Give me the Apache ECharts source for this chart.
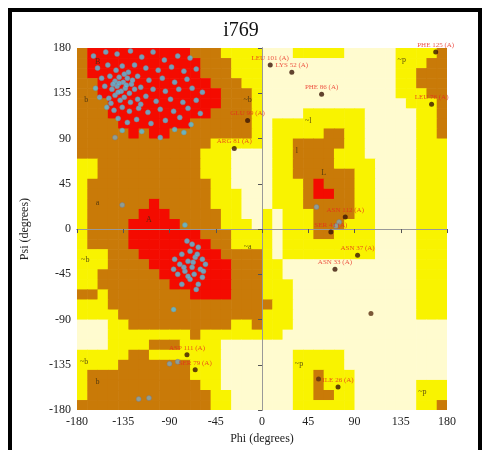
<!DOCTYPE html>
<html><head><meta charset="utf-8">
<script src="https://cdn.jsdelivr.net/npm/echarts/dist/echarts.min.js"></script>
<style>html,body{margin:0;padding:0;background:#fff}#c{width:482px;height:450px}</style>
</head><body><div id="c"></div>
<script>
// Region map: 36 rows (psi 180 -> -180, 10 deg each), 36 cols (phi -180 -> 180)
// R = core, B = allowed, Y = generously allowed, L = disallowed
const regionRows = [
"BRRRRRRRRRRBBBYYYYLLLYYYYYLLLLLYYYYB",
"BRRRRRRRRRRRBBBYYYLLLLLLLLLLLLLYYYBB",
"BRRRRRRRRRRRBBBYYYLLLLLLLLLLLLLYYBBB",
"BBRRRRRRRRRRRBBBYYLLLLLLLLLLLLLYYBBB",
"BBRRRRRRRRRRRRBBBYLLLLLLLLLLLLLYYYBB",
"BBBRRRRRRRRRRRBBBYLLLLLLLLLLLLLLYYYB",
"BBBRRRRRRRRRRBBBBYLLLLYYYYYYLLLLLYYB",
"BBBBRRRRRRRBBBBBBYLYYYYYYYYYLLLLLYYB",
"BBBBBRBRRBBBBBBBBYLYYYYYBBYYLLLLLYYB",
"BBBBBBBBBBBBBYYYYYLYYBBBBBYYLLLLLYYY",
"BBBBBBBBBBBBYYYLLLLYYBBBBYYYLLLLLYYY",
"YYBBBBBBBBBBYYYLLLLYYBBBBYYYYLLLLYYY",
"YYBBBBBBBBBBYYYLLLLYYBBBBBBYYLLLLYYY",
"YBBBBBBBBBBBBYYLLLLYYYBRBBBYYLLLLYYY",
"YBBBBBBBBBBBBYYYLLLYYYBRRBBYYLLLLYYY",
"YBBBBBBRBBBBBYYYLLLYYYBBBBBYYLLLLYYY",
"YBBBBBRRRBBBBBYYLLYLYYYBBBBYYLLLLYYY",
"YBBBBRRRRRBBBBYYYLYLYYYBBBYYYLLLLYYY",
"YBBBBRRRRRRRBBBYYYYLYYYBBYYYYLLLLYYY",
"YBBBBRRRRRRRRBBYYYYLYYYYYYYYYLLLLYYY",
"YYYBBBRRRRRRRRBBBBYLYYYYYYYYYLLLLYYY",
"YYYBBBBRRRRRRRRBBBYYLLLLLLLLLLLLLYYY",
"YYBBBBBBRRRRRRRBBBYYLLLLLLLLLLLLLYYY",
"YYBBBBBBBRRRRRRBBBYYYLLLLLLLLLLLLYYY",
"BBYBBBBBBBBRRRRBBBYYYLLLLLLLLLLLLYYY",
"YYYBBBBBBBBBBBBBBBBYYLLLLLLLLLLLLYYY",
"YYYYBBBBBBBBBBBBBBYYYLLLLLLLLLLLLYYY",
"LLLYYBBBBBBBBBBYYBYYYLLLLLLLLLLLLLLL",
"LLLYYYYYYYYBYYYYYYYYLLLLLLLLLLLLLLLL",
"LLLYYYYBBBYYYYLLLLLLLLLLLLLLLLLLLLLL",
"YYYYYBBYYYYYYYLLLLLLLYYYYYLLLLLLLLLL",
"YYYYBBBBBBBYYYLLLLLLLYYYYYLLLLLLLLLL",
"YBBBBBBBBBBYYYLLLLLLLYYBYYYLLLLLLLLL",
"YBBBBBBBBBBBYYLLLLLLLYYBYYYLLLLLLYYY",
"YBBBBBBBBBBBBYYLLLLLLYYBBYYLLLLLLYYY",
"BBBBBBBBBBBBBYYLLLLLLYYYYYYLLLLLLYYB"
];
const regionColors = {R:'#F40B00', B:'#C97A08', Y:'#F9F300', L:'#FFFBCF'};

const tickValues = [-180,-135,-90,-45,0,45,90,135,180];

// Residues (phi, psi)
const betaPts = [
[-164,172],[-152,176],[-141,174],[-128,177],[-117,171],[-106,176],[-95,168],[-82,172],[-70,170],
[-160,160],[-150,163],[-142,158],[-136,162],[-130,156],[-124,163],[-113,160],[-101,158],[-88,161],[-76,157],[-64,159],
[-156,150],[-148,152],[-143,147],[-139,151],[-135,146],[-131,150],[-127,144],[-121,152],[-110,148],[-97,150],[-85,146],[-73,149],
[-162,140],[-153,142],[-146,139],[-141,142],[-137,137],[-133,140],[-129,135],[-124,139],[-118,141],[-106,139],[-94,137],[-81,139],[-68,140],[-58,136],
[-158,131],[-149,130],[-143,133],[-138,128],[-134,131],[-128,126],[-121,129],[-113,132],[-103,127],[-89,129],[-77,126],[-64,128],
[-151,121],[-144,118],[-136,121],[-129,117],[-120,120],[-111,116],[-99,119],[-86,117],[-72,120],[-60,115],
[-140,110],[-131,106],[-122,109],[-108,105],[-94,108],[-80,111],[-69,104],
[-136,98],[-117,97],[-99,91],[-85,99],[-76,96],
[-145,144],[-139,145],[-132,143],[-140,136],[-134,154],[-126,148],[-147,125],[-118,124]
];
const alphaPts = [
[-75,4],[-68,-15],[-62,-18],[-70,-22],[-78,-25],[-65,-28],[-58,-30],[-72,-32],[-80,-35],[-68,-38],
[-60,-40],[-55,-35],[-75,-42],[-66,-45],[-58,-48],[-82,-45],[-70,-50],[-62,-55],[-78,-55],[-85,-30],
[-63,-25],[-73,-12],[-57,-42],[-67,-33],[-76,-38],[-86,-40],[-64,-60],[-72,-47],[-86,-80]
];
const otherPts = [
[-136,24],[-143,91],[-120,-169],[-110,-168],[-90,-134],[-82,-132],[53,22],[75,7],[72,3]
];
const labelledPts = [
[169,176,'PHE 125 (A)'],
[8,163,'LEU 101 (A)'],
[29,156,'LYS 52 (A)'],
[58,134,'PHE 86 (A)'],
[165,124,'LEU 76 (A)'],
[-14,108,'GLU 99 (A)'],
[-27,80,'ARG 81 (A)'],
[81,12,'ASN 112 (A)'],
[67,-3,'SER 41 (A)'],
[93,-26,'ASN 37 (A)'],
[71,-40,'ASN 33 (A)'],
[-73,-125,'ASP 111 (A)'],
[-65,-140,'SER 79 (A)'],
[74,-157,'ILE 26 (A)']
];
const plainDarkPts = [[55,-149],[106,-84]];
const regionLetters = [
[-160,166,'B'],[-171,128,'b'],[-14,128,'~b'],[-110,9,'A'],[-160,26,'a'],[-14,-18,'~a'],
[-172,-31,'~b'],[-173,-132,'~b'],[-160,-152,'b'],[45,108,'~l'],[34,78,'l'],[60,56,'L'],
[136,168,'~p'],[36,-134,'~p'],[156,-162,'~p']
];

const cells = [];
regionRows.forEach((row, r) => {
  for (let c = 0; c < 36; c++) cells.push([-180 + 10 * c, 170 - 10 * r, row[c]]);
});

const serif = 'Liberation Serif';
const axisCommon = {
  type: 'value', min: -180, max: 180, interval: 45, z: 5,
  splitLine: {show: false},
  axisLine: {show: true, lineStyle: {color: '#777', width: 1}},
  axisTick: {show: true, length: 4, lineStyle: {color: '#555'}},
  axisLabel: {fontFamily: serif, fontSize: 12, color: '#222', margin: 6,
    customValues: tickValues},
  nameTextStyle: {fontFamily: serif, fontSize: 12, color: '#222'}
};

const chart = echarts.init(document.getElementById('c'));
chart.setOption({
  animation: false,
  backgroundColor: '#fff',
  title: {text: 'i769', left: 'center', top: 16,
    textStyle: {fontFamily: serif, fontSize: 20, fontWeight: 'normal', color: '#111'}},
  grid: {left: 77, right: 35, top: 48, bottom: 38},
  graphic: [{type: 'rect', z: 100, shape: {x: 10, y: 10, width: 470, height: 460},
    style: {fill: 'none', stroke: '#000', lineWidth: 4}}],
  xAxis: [
    Object.assign({}, axisCommon, {name: 'Phi (degrees)', nameLocation: 'middle', nameGap: 22}),
    {type: 'value', min: -180, max: 180, position: 'top', z: 5, splitLine: {show: false},
     axisLine: {show: true, lineStyle: {color: '#999'}}, axisTick: {show: false}, axisLabel: {show: false}}
  ],
  yAxis: [
    Object.assign({}, axisCommon, {name: 'Psi (degrees)', nameLocation: 'middle', nameGap: 46}),
    {type: 'value', min: -180, max: 180, position: 'right', z: 5, splitLine: {show: false},
     axisLine: {show: true, lineStyle: {color: '#999'}}, axisTick: {show: false}, axisLabel: {show: false}}
  ],
  series: [
    {
      type: 'custom', clip: true, silent: true, z: 1,
      encode: {x: 0, y: 1},
      data: cells.map(d => [d[0], d[1]]),
      renderItem: (params, api) => {
        const x0 = api.value(0), y0 = api.value(1);
        const p1 = api.coord([x0, y0 + 10]);
        const p2 = api.coord([x0 + 10, y0]);
        return {type: 'rect',
          shape: {x: p1[0], y: p1[1], width: p2[0] - p1[0] + 0.6, height: p2[1] - p1[1] + 0.6},
          style: {fill: regionColors[cells[params.dataIndex][2]]}};
      },
      markLine: {silent: true, symbol: 'none', label: {show: false},
        lineStyle: {color: '#8a8a8a', width: 1, type: 'solid'},
        data: [{xAxis: 0}, {yAxis: 0}]}
    },
    {
      type: 'scatter', z: 3, data: regionLetters, symbolSize: 0,
      label: {show: true, position: 'inside', formatter: p => p.data[2],
        fontFamily: serif, fontSize: 8, color: '#3a2a10'}
    },
    {
      type: 'scatter', z: 4, symbol: 'circle', symbolSize: 5,
      data: betaPts.concat(alphaPts),
      itemStyle: {color: '#55C3E8', borderColor: '#7a8a90', borderWidth: 0.6}
    },
    {
      type: 'scatter', z: 4, symbol: 'circle', symbolSize: 5, data: otherPts,
      itemStyle: {color: '#7FA8B8', borderColor: '#778', borderWidth: 0.6}
    },
    {
      type: 'scatter', z: 4, symbol: 'circle', symbolSize: 5, data: plainDarkPts,
      itemStyle: {color: '#5a3010'}
    },
    {
      type: 'scatter', z: 6, symbol: 'circle', symbolSize: 5, data: labelledPts,
      itemStyle: {color: '#3a1505'},
      label: {show: true, position: 'top', distance: 1, formatter: p => p.data[2],
        fontFamily: serif, fontSize: 7, color: '#E8281E'}
    }
  ]
});
</script></body></html>
